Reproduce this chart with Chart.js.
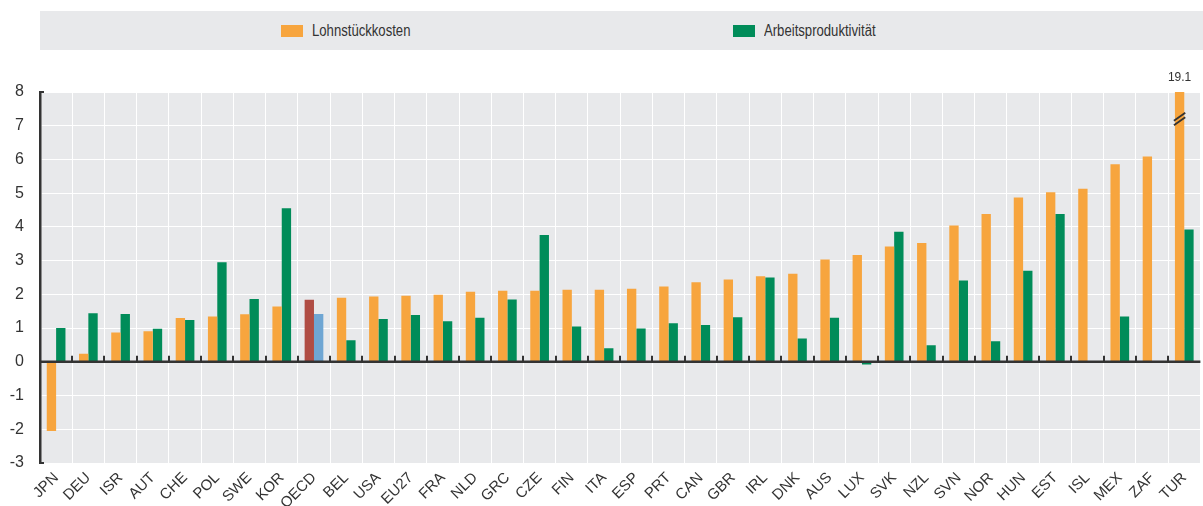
<!DOCTYPE html>
<html><head><meta charset="utf-8">
<script src="https://cdn.jsdelivr.net/npm/chart.js@4.4.1/dist/chart.umd.min.js"></script>
<style>
html,body{margin:0;padding:0;background:#fff;}
#wrap{position:relative;width:1203px;height:506px;}
#legend{position:absolute;left:40px;top:11px;width:1163px;height:39px;background:#e8e9eb;font-family:"Liberation Sans Narrow","Arial Narrow","Liberation Sans",Arial,sans-serif;font-size:16px;color:#333;}
.item{position:absolute;top:0;height:39px;display:flex;align-items:center;}
.sw{width:22px;height:12px;margin-right:9px;flex:none;}
.txt{display:inline-block;transform:scaleX(0.82);transform-origin:left center;white-space:nowrap;}
canvas{position:absolute;left:0;top:0;}
</style></head>
<body><div id="wrap"><canvas id="c" width="1203" height="506"></canvas><div id="legend"></div></div>
<script>
const categories = ["JPN","DEU","ISR","AUT","CHE","POL","SWE","KOR","OECD","BEL","USA","EU27","FRA","NLD","GRC","CZE","FIN","ITA","ESP","PRT","CAN","GBR","IRL","DNK","AUS","LUX","SVK","NZL","SVN","NOR","HUN","EST","ISL","MEX","ZAF","TUR"];
const lohnstueckkosten = [-2.05,0.24,0.87,0.91,1.30,1.34,1.41,1.64,1.84,1.90,1.94,1.96,1.99,2.08,2.11,2.11,2.14,2.14,2.17,2.23,2.36,2.44,2.54,2.61,3.03,3.17,3.42,3.52,4.04,4.38,4.87,5.03,5.13,5.86,6.09,19.1];
const arbeitsproduktivitaet = [1.00,1.44,1.42,0.98,1.24,2.95,1.86,4.55,1.42,0.64,1.27,1.39,1.20,1.31,1.85,3.76,1.05,0.40,0.99,1.14,1.09,1.32,2.50,0.69,1.31,-0.08,3.86,0.49,2.41,0.61,2.70,4.38,null,1.34,null,3.92];
const seriesNames = ["Lohnstückkosten","Arbeitsproduktivität"];
const yMin = -3, yMax = 8;

const ORANGE = "#f7a53e", GREEN = "#008c59", RED = "#b04d44", BLUE = "#6fa6d3";
const BG = "#e8e9eb", DARK = "#333333";
const FONT = '"Liberation Sans Narrow","Arial Narrow","Liberation Sans",Arial,sans-serif';

const colorsA = categories.map(c => c === "OECD" ? RED : ORANGE);
const colorsB = categories.map(c => c === "OECD" ? BLUE : GREEN);

// HTML legend
const legend = document.getElementById("legend");
[[seriesNames[0], ORANGE, 241], [seriesNames[1], GREEN, 693]].forEach(([t, col, left]) => {
  const d = document.createElement("div");
  d.className = "item"; d.style.left = left + "px";
  d.innerHTML = '<span class="sw" style="background:' + col + '"></span><span class="txt">' + t + '</span>';
  legend.appendChild(d);
});

const bgPlugin = {
  id: "bg",
  beforeDraw(chart) {
    const {ctx, chartArea: a} = chart;
    ctx.save(); ctx.fillStyle = BG;
    ctx.fillRect(a.left, a.top, a.right - a.left, a.bottom - a.top);
    ctx.restore();
  }
};

const overlayPlugin = {
  id: "overlay",
  afterDatasetsDraw(chart) {
    const {ctx, chartArea: a, scales: {x, y}} = chart;
    const y0 = y.getPixelForValue(0);
    ctx.save();
    // zero line
    ctx.strokeStyle = DARK; ctx.lineWidth = 2.5;
    ctx.beginPath(); ctx.moveTo(a.left, y0); ctx.lineTo(a.right, y0); ctx.stroke();
    // boundary ticks
    ctx.lineWidth = 2;
    for (let i = 0; i < categories.length - 1; i++) {
      const bx = Math.round((x.getPixelForValue(i) + x.getPixelForValue(i + 1)) / 2);
      ctx.beginPath(); ctx.moveTo(bx, y0 - 6); ctx.lineTo(bx, y0); ctx.stroke();
    }
    // inner ticks on the y axis at top and bottom
    [yMax, yMin].forEach(v => {
      const py = y.getPixelForValue(v);
      ctx.beginPath(); ctx.moveTo(a.left, py); ctx.lineTo(a.left + 4, py); ctx.stroke();
    });
    // overflow labels and break markers
    chart.data.datasets.forEach((ds, di) => {
      const meta = chart.getDatasetMeta(di);
      ds.data.forEach((v, i) => {
        if (v !== null && v > yMax) {
          const bar = meta.data[i];
          const cx = bar.x, w = bar.width;
          ctx.fillStyle = DARK;
          ctx.font = "12px " + FONT;
          ctx.textAlign = "center"; ctx.textBaseline = "middle";
          ctx.fillText(String(v), cx, a.top - 14);
          const by = y.getPixelForValue(7.2);
          ctx.strokeStyle = DARK; ctx.lineWidth = 1.8;
          for (const off of [-2.3, 2.3]) {
            ctx.beginPath();
            ctx.moveTo(cx - w / 2 - 1, by + off + 4);
            ctx.lineTo(cx + w / 2 + 1, by + off - 4);
            ctx.stroke();
          }
        }
      });
    });
    ctx.restore();
  }
};

new Chart(document.getElementById("c"), {
  type: "bar",
  data: {
    labels: categories,
    datasets: [
      {label: seriesNames[0], data: lohnstueckkosten, backgroundColor: colorsA, borderWidth: 0, clip: 0},
      {label: seriesNames[1], data: arbeitsproduktivitaet, backgroundColor: colorsB, borderWidth: 0, clip: 0}
    ]
  },
  options: {
    responsive: false,
    animation: false,
    devicePixelRatio: 1,
    layout: {padding: {top: 92, right: 0, left: 0, bottom: 0}},
    datasets: {bar: {categoryPercentage: 0.58, barPercentage: 1.0}},
    plugins: {legend: {display: false}, tooltip: {enabled: false}},
    scales: {
      x: {
        grid: {color: "#ffffff", lineWidth: 1, drawTicks: false, offset: true},
        border: {display: false},
        ticks: {color: DARK, font: {family: FONT, size: 15}, maxRotation: 45, minRotation: 45, autoSkip: false, padding: 6},
        afterFit(s) { s.height = 43; }
      },
      y: {
        min: yMin, max: yMax,
        grid: {color: "#ffffff", lineWidth: 1, drawTicks: false},
        border: {display: true, color: DARK, width: 2.5},
        ticks: {stepSize: 1, color: DARK, font: {family: FONT, size: 16}, padding: 16},
        afterFit(s) { s.width = 40; }
      }
    }
  },
  plugins: [bgPlugin, overlayPlugin]
});
</script>
</body></html>
